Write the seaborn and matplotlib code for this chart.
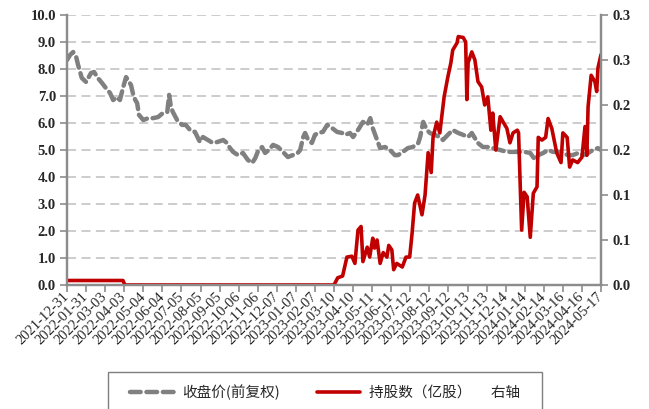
import matplotlib
matplotlib.use("Agg")
import math
import matplotlib.pyplot as plt
import matplotlib.dates as mdates
import matplotlib.ticker as mticker
from matplotlib.patches import Rectangle
import numpy as np
import pandas as pd
import seaborn as sns

# ---- data -------------------------------------------------------------
price_dates = [
    "2021-12-31", "2022-01-05", "2022-01-10", "2022-01-15", "2022-01-18", "2022-01-24",
    "2022-01-31", "2022-02-08", "2022-02-13", "2022-02-19", "2022-02-26", "2022-03-04",
    "2022-03-11", "2022-03-16", "2022-03-22", "2022-03-27", "2022-04-01", "2022-04-06",
    "2022-04-09", "2022-04-14", "2022-04-17", "2022-04-21", "2022-04-24", "2022-04-27",
    "2022-05-04", "2022-05-12", "2022-05-20", "2022-05-28", "2022-06-05", "2022-06-12",
    "2022-06-15", "2022-06-18", "2022-06-21", "2022-06-28", "2022-07-06", "2022-07-12",
    "2022-07-19", "2022-07-27", "2022-08-01", "2022-08-04", "2022-08-09", "2022-08-17",
    "2022-08-25", "2022-09-02", "2022-09-11", "2022-09-17", "2022-09-22", "2022-09-27",
    "2022-10-05", "2022-10-13", "2022-10-21", "2022-10-28", "2022-11-02", "2022-11-06",
    "2022-11-13", "2022-11-18", "2022-11-24", "2022-12-01", "2022-12-09", "2022-12-17",
    "2022-12-25", "2023-01-02", "2023-01-10", "2023-01-14", "2023-01-19", "2023-01-22",
    "2023-01-27", "2023-02-02", "2023-02-07", "2023-02-12", "2023-02-20", "2023-02-27",
    "2023-03-07", "2023-03-15", "2023-03-23", "2023-03-28", "2023-04-05", "2023-04-10",
    "2023-04-16", "2023-04-21", "2023-04-26", "2023-05-03", "2023-05-08", "2023-05-12",
    "2023-05-19", "2023-05-24", "2023-06-01", "2023-06-09", "2023-06-17", "2023-06-22",
    "2023-06-30", "2023-07-08", "2023-07-16", "2023-07-25", "2023-07-28", "2023-08-02",
    "2023-08-08", "2023-08-13", "2023-08-21", "2023-08-29", "2023-09-03", "2023-09-11",
    "2023-09-19", "2023-09-28", "2023-10-06", "2023-10-14", "2023-10-20", "2023-10-25",
    "2023-10-30", "2023-11-07", "2023-11-15", "2023-11-23", "2023-12-05", "2023-12-16",
    "2023-12-26", "2024-01-06", "2024-01-14", "2024-01-23", "2024-01-31", "2024-02-05",
    "2024-02-13", "2024-02-21", "2024-02-29", "2024-03-08", "2024-03-16", "2024-03-24",
    "2024-04-01", "2024-04-10", "2024-04-18", "2024-04-26", "2024-05-04", "2024-05-12",
    "2024-05-17",
]
price_values = [
    8.33, 8.52, 8.63, 8.44, 8.15, 7.67,
    7.52, 7.85, 7.89, 7.67, 7.48, 7.30,
    7.11, 6.85, 6.96, 6.85, 7.30, 7.70,
    7.59, 7.41, 7.11, 6.85, 6.74, 6.30,
    6.11, 6.18, 6.18, 6.22, 6.37, 6.41,
    7.04, 6.59, 6.41, 6.11, 5.93, 5.93,
    5.74, 5.67, 5.44, 5.30, 5.48, 5.37,
    5.26, 5.30, 5.37, 5.26, 5.07, 4.93,
    4.81, 4.89, 4.63, 4.52, 4.70, 4.93,
    5.11, 4.89, 5.00, 5.19, 5.11, 4.93,
    4.74, 4.81, 4.89, 5.00, 5.48, 5.63,
    5.37, 5.26, 5.56, 5.63, 5.67, 5.93,
    5.81, 5.67, 5.63, 5.56, 5.63, 5.48,
    5.67, 5.85, 6.04, 5.93, 6.18, 5.81,
    5.37, 5.07, 5.11, 5.00, 4.81, 4.81,
    4.93, 5.07, 5.11, 5.26, 5.48, 6.04,
    5.74, 5.63, 5.56, 5.48, 5.37, 5.56,
    5.74, 5.63, 5.56, 5.48, 5.63, 5.44,
    5.26, 5.11, 5.11, 5.07, 5.00, 4.93,
    4.93, 4.93, 4.93, 4.89, 4.63, 4.81,
    4.89, 5.00, 4.93, 4.93, 4.89, 4.81,
    4.81, 4.89, 4.81, 4.89, 5.00, 5.07,
    5.00,
]

hold_dates = [
    "2021-12-31", "2022-04-01", "2022-04-04", "2023-03-10", "2023-03-16", "2023-03-24",
    "2023-03-31", "2023-04-08", "2023-04-13", "2023-04-18", "2023-04-23", "2023-04-26",
    "2023-05-03", "2023-05-07", "2023-05-12", "2023-05-15", "2023-05-19", "2023-05-24",
    "2023-05-29", "2023-06-04", "2023-06-07", "2023-06-12", "2023-06-15", "2023-06-20",
    "2023-06-29", "2023-07-05", "2023-07-11", "2023-07-15", "2023-07-19", "2023-07-24",
    "2023-07-31", "2023-08-05", "2023-08-10", "2023-08-15", "2023-08-18", "2023-08-24",
    "2023-08-29", "2023-09-05", "2023-09-11", "2023-09-16", "2023-09-19", "2023-09-26",
    "2023-09-28", "2023-10-06", "2023-10-10", "2023-10-12", "2023-10-14", "2023-10-20",
    "2023-10-25", "2023-10-30", "2023-11-05", "2023-11-10", "2023-11-15", "2023-11-20",
    "2023-11-23", "2023-11-28", "2023-12-05", "2023-12-10", "2023-12-16", "2023-12-21",
    "2023-12-26", "2024-01-02", "2024-01-04", "2024-01-09", "2024-01-13", "2024-01-18",
    "2024-01-23", "2024-01-28", "2024-02-03", "2024-02-05", "2024-02-11", "2024-02-17",
    "2024-02-21", "2024-02-27", "2024-03-06", "2024-03-13", "2024-03-16", "2024-03-23",
    "2024-03-27", "2024-04-01", "2024-04-09", "2024-04-16", "2024-04-21", "2024-04-24",
    "2024-04-26", "2024-05-01", "2024-05-07", "2024-05-10", "2024-05-12", "2024-05-17",
]
hold_values = [
    0.005, 0.005, 0.000, 0.000, 0.008, 0.010,
    0.031, 0.032, 0.024, 0.061, 0.065, 0.026,
    0.042, 0.031, 0.052, 0.041, 0.050, 0.024,
    0.036, 0.031, 0.044, 0.039, 0.017, 0.024,
    0.020, 0.031, 0.031, 0.058, 0.091, 0.100,
    0.078, 0.100, 0.147, 0.125, 0.164, 0.181,
    0.169, 0.209, 0.231, 0.247, 0.261, 0.269,
    0.276, 0.275, 0.270, 0.206, 0.247, 0.259,
    0.250, 0.226, 0.220, 0.200, 0.209, 0.172,
    0.191, 0.150, 0.187, 0.181, 0.174, 0.158,
    0.169, 0.172, 0.169, 0.061, 0.103, 0.098,
    0.053, 0.102, 0.109, 0.164, 0.161, 0.164,
    0.185, 0.174, 0.147, 0.136, 0.169, 0.164,
    0.131, 0.139, 0.136, 0.142, 0.176, 0.144,
    0.198, 0.233, 0.226, 0.215, 0.241, 0.256,
]

price_label = "收盘价(前复权)"
hold_label = "持股数（亿股）      右轴"
axis_start, axis_end, tick_step_days = "2021-12-31", "2024-05-17", 31

price = pd.DataFrame({"date": pd.to_datetime(price_dates), "value": price_values})
hold = pd.DataFrame({"date": pd.to_datetime(hold_dates), "value": hold_values})

# ---- styling ----------------------------------------------------------
sns.set_theme(style="white")
plt.rcParams["font.family"] = ["Liberation Serif", "Noto Sans CJK SC", "DejaVu Sans"]

GREY = "#808080"
RED = "#C00000"
AXIS = "#8C8C8C"
W, H = 649, 409

fig = plt.figure(figsize=(W / 100, H / 100), dpi=100)
ax = fig.add_axes([67 / W, 1 - 285 / H, 534 / W, 270 / H])
ax2 = ax.twinx()

sns.lineplot(data=price, x="date", y="value", ax=ax, color=GREY, linewidth=3.2,
             linestyle=(0, (2.4, 1.3)), dash_capstyle="round", label=price_label,
             legend=False)
sns.lineplot(data=hold, x="date", y="value", ax=ax2, color=RED, linewidth=2.6,
             label=hold_label, legend=False)

# left axis
ax.set_ylim(0, 10)
ax.set_yticks(np.arange(0, 10.01, 1.0))
ax.yaxis.set_major_formatter(mticker.FormatStrFormatter("%.1f"))
ax.grid(axis="y", color="#C8C8C8", linestyle=(0, (5, 3)), linewidth=1.3)
ax.grid(axis="x", visible=False)
ax.set_axisbelow(True)

# right axis: one-decimal labels rounded half up
ax2.set_ylim(0, 0.3)
ax2.set_yticks(np.arange(0, 0.3001, 0.05))
ax2.yaxis.set_major_formatter(
    mticker.FuncFormatter(lambda v, _: f"{math.floor(v * 10 + 0.5) / 10:.1f}"))
ax2.grid(False)

# date axis
start, end = pd.Timestamp(axis_start), pd.Timestamp(axis_end)
ax.set_xlim(start, end)
ax.set_xticks(pd.date_range(start, end, freq=f"{tick_step_days}D"))
ax.xaxis.set_major_formatter(mdates.DateFormatter("%Y-%m-%d"))
ax.set_xlabel("")
ax.set_ylabel("")
ax2.set_ylabel("")

for a in (ax, ax2):
    a.spines["top"].set_visible(False)
    for s in ("left", "right", "bottom"):
        a.spines[s].set_color(AXIS)
        a.spines[s].set_linewidth(1.6)

ax.tick_params(axis="y", direction="out", length=5, width=1.2, color=AXIS,
               labelsize=10.5, pad=3, left=True)
ax2.tick_params(axis="y", direction="out", length=5, width=1.2, color=AXIS,
                labelsize=10.5, pad=3, right=True)
ax.tick_params(axis="x", direction="out", length=5, width=1.2, color=AXIS,
               labelsize=10.5, pad=2, bottom=True)
for lbl in ax.get_yticklabels() + ax2.get_yticklabels():
    lbl.set_fontweight("bold")
for lbl in ax.get_xticklabels():
    lbl.set_rotation(45)
    lbl.set_ha("right")
    lbl.set_va("center")
    lbl.set_rotation_mode("anchor")

# legend box along the bottom (frame runs past the lower edge)
fig.patches.append(Rectangle((108 / W, 1 - 425 / H), 434 / W, 53 / H,
                             transform=fig.transFigure, fill=False,
                             edgecolor="#7F7F7F", linewidth=1.0))
handles = [ax.lines[0], ax2.lines[0]]
leg = fig.legend(handles, [price_label, hold_label], loc="center left",
                 bbox_to_anchor=(130 / W, 1 - 392 / H), borderaxespad=0,
                 borderpad=0, ncol=2, frameon=False, handlelength=3.0,
                 handletextpad=0.6, columnspacing=2.5,
                 prop={"family": ["Noto Sans CJK SC", "DejaVu Sans"], "size": 10.5})

fig.savefig("out.png", dpi=100)
